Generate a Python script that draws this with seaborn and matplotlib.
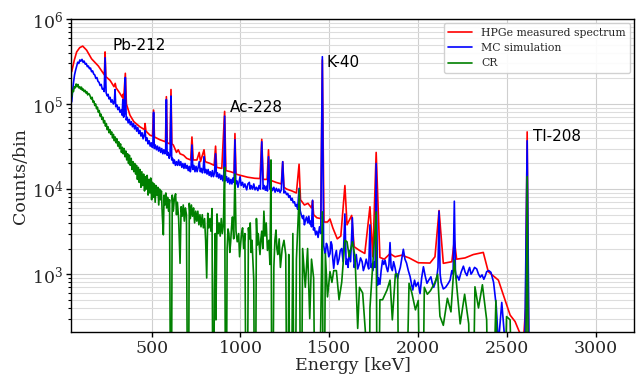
import matplotlib
matplotlib.use("Agg")
import matplotlib.pyplot as plt
import seaborn as sns
import pandas as pd

# ---------------- data (energy keV, counts/bin) ----------------
hpge_spectrum = [
    (50, 2.4e5), (65, 3.3e5), (78, 4.1e5), (95, 4.6e5), (112, 4.8e5), (134, 4.3e5),
    (162, 3.4e5), (200, 2.8e5), (228, 2.3e5), (234, 2.2e5), (238, 4.1e5), (242, 2.1e5),
    (266, 1.9e5), (288, 1.6e5), (295, 1.75e5), (300, 1.55e5), (320, 1.35e5), (335, 1.2e5),
    (338, 1.3e5), (342, 1.1e5), (352, 2.3e5), (358, 1.0e5), (378, 7.4e4), (400, 6.2e4),
    (434, 5.4e4), (460, 5.0e4), (463, 5.9e4), (468, 4.8e4), (491, 4.3e4), (505, 4.2e4),
    (511, 8.5e4), (516, 4.1e4), (547, 3.8e4), (578, 3.6e4), (583, 1.22e5), (588, 3.5e4),
    (604, 3.4e4), (609, 1.48e5), (614, 3.4e4), (622, 3.3e4), (640, 2.7e4), (650, 2.9e4),
    (660, 2.6e4), (680, 2.5e4), (697, 2.3e4), (720, 2.2e4), (727, 4.1e4), (734, 2.2e4),
    (755, 2.2e4), (768, 2.7e4), (775, 2.1e4), (795, 2.9e4), (802, 2.1e4), (830, 2.0e4),
    (852, 1.9e4), (860, 3.2e4), (866, 1.8e4), (895, 1.75e4), (911, 8.2e4), (918, 1.65e4),
    (945, 1.6e4), (964, 1.55e4), (969, 4.5e4), (975, 1.5e4), (1000, 1.45e4), (1040, 1.38e4),
    (1080, 1.34e4), (1110, 1.33e4), (1120, 3.85e4), (1128, 1.3e4), (1150, 1.3e4),
    (1158, 2.9e4), (1165, 1.28e4), (1200, 1.2e4), (1230, 1.15e4), (1238, 2.1e4),
    (1245, 1.05e4), (1260, 1.0e4), (1290, 9.5e3), (1315, 9.0e3), (1330, 1.96e4),
    (1338, 7.5e3), (1360, 6.5e3), (1380, 6.8e3), (1400, 6.0e3), (1406, 7.3e3), (1412, 5.0e3),
    (1430, 4.6e3), (1452, 4.5e3), (1461, 3.3e5), (1470, 4.1e3), (1490, 4.1e3), (1504, 4.45e3),
    (1520, 3.5e3), (1545, 2.6e3), (1565, 2.8e3), (1588, 1.1e4), (1600, 3.8e3), (1626, 4.9e3),
    (1640, 2.1e3), (1670, 1.9e3), (1700, 1.75e3), (1729, 6.2e3), (1745, 1.6e3),
    (1764, 2.7e4), (1785, 1.57e3), (1810, 1.5e3), (1842, 1.74e3), (1870, 1.6e3),
    (1908, 1.67e3), (1950, 1.55e3), (2001, 1.36e3), (2067, 1.35e3), (2095, 1.6e3),
    (2118, 5.6e3), (2142, 1.34e3), (2190, 1.4e3), (2204, 2.5e3), (2217, 1.5e3),
    (2264, 1.55e3), (2311, 1.7e3), (2367, 1.8e3), (2395, 1.07e3), (2452, 850),
    (2490, 494), (2518, 330), (2546, 277), (2574, 200), (2592, 150), (2605, 400),
    (2614, 4.7e4), (2622, 150), (2640, 80), (2700, 40),
]

mc_simulation = [
    (50, 1.06e5), (55, 1.4e5), (60, 1.77e5), (66, 2.2e5), (72, 2.5e5), (78, 2.8e5),
    (84, 3.1e5), (90, 3.0e5), (96, 3.3e5), (102, 3.2e5), (108, 3.35e5), (114, 3.1e5),
    (120, 3.2e5), (126, 2.95e5), (132, 3.0e5), (138, 2.75e5), (144, 2.8e5), (150, 2.6e5),
    (156, 2.65e5), (162, 2.4e5), (168, 2.45e5), (174, 2.25e5), (180, 2.2e5), (186, 2.0e5),
    (192, 2.05e5), (198, 1.85e5), (204, 1.8e5), (210, 1.65e5), (216, 1.7e5), (222, 1.5e5),
    (228, 1.52e5), (233, 1.4e5), (238, 3.5e5), (244, 1.35e5), (250, 1.25e5), (255, 1.3e5),
    (260, 1.15e5), (266, 1.2e5), (272, 1.05e5), (278, 1.12e5), (285, 1.0e5), (290, 1.06e5),
    (294, 1.48e5), (298, 9.3e4), (304, 9.8e4), (310, 8.6e4), (316, 9.2e4), (322, 8.0e4),
    (328, 8.5e4), (334, 7.4e4), (338, 1.13e5), (342, 7.0e4), (347, 7.6e4), (352, 2.05e5),
    (357, 6.5e4), (362, 7.0e4), (368, 6.0e4), (374, 6.6e4), (380, 5.7e4), (386, 6.2e4),
    (392, 5.4e4), (398, 5.9e4), (404, 5.1e4), (410, 5.6e4), (416, 4.8e4), (422, 5.3e4),
    (428, 4.5e4), (434, 4.9e4), (440, 4.2e4), (446, 4.6e4), (452, 3.9e4), (458, 4.3e4),
    (463, 4.9e4), (468, 3.7e4), (474, 4.0e4), (480, 3.4e4), (486, 3.7e4), (492, 3.2e4),
    (498, 3.5e4), (503, 3.1e4), (507, 3.3e4), (511, 8.0e4), (515, 3.0e4), (521, 3.3e4),
    (527, 2.9e4), (533, 3.2e4), (539, 2.8e4), (545, 3.1e4), (551, 2.7e4), (557, 3.0e4),
    (563, 2.6e4), (569, 2.9e4), (575, 2.6e4), (579, 2.8e4), (583, 1.13e5), (587, 2.5e4),
    (593, 2.7e4), (599, 2.3e4), (604, 2.5e4), (609, 1.24e5), (613, 2.2e4), (618, 2.3e4),
    (623, 2.0e4), (628, 2.2e4), (634, 1.9e4), (640, 2.1e4), (646, 1.9e4), (652, 2.2e4),
    (658, 1.9e4), (664, 2.1e4), (670, 1.8e4), (676, 2.0e4), (682, 1.75e4), (688, 2.0e4),
    (694, 1.75e4), (700, 1.9e4), (706, 1.65e4), (712, 1.85e4), (718, 1.6e4), (722, 1.8e4),
    (727, 3.3e4), (732, 1.7e4), (738, 1.9e4), (744, 1.6e4), (750, 1.85e4), (756, 1.6e4),
    (762, 1.8e4), (768, 2.1e4), (774, 1.6e4), (780, 1.75e4), (786, 1.55e4), (790, 1.7e4),
    (795, 2.4e4), (800, 1.55e4), (806, 1.7e4), (812, 1.5e4), (818, 1.7e4), (824, 1.45e4),
    (830, 1.6e4), (836, 1.4e4), (842, 1.65e4), (848, 1.4e4), (854, 1.55e4), (860, 2.6e4),
    (865, 1.4e4), (871, 1.55e4), (877, 1.35e4), (883, 1.5e4), (889, 1.3e4), (895, 1.45e4),
    (901, 1.25e4), (906, 1.4e4), (911, 7.2e4), (916, 1.25e4), (922, 1.4e4), (928, 1.2e4),
    (934, 1.35e4), (940, 1.15e4), (946, 1.3e4), (952, 1.15e4), (958, 1.35e4), (964, 1.2e4),
    (969, 3.8e4), (974, 1.15e4), (980, 1.25e4), (986, 1.05e4), (992, 1.2e4), (998, 1.4e4),
    (1004, 1.1e4), (1012, 1.2e4), (1018, 1.05e4), (1025, 1.15e4), (1035, 9.8e3),
    (1042, 1.15e4), (1050, 1.2e4), (1055, 1.0e4), (1060, 1.1e4), (1068, 1.0e4),
    (1075, 1.15e4), (1082, 9.8e3), (1090, 1.05e4), (1098, 9.6e3), (1105, 1.1e4),
    (1112, 1.0e4), (1120, 3.6e4), (1128, 1.0e4), (1134, 1.1e4), (1140, 9.7e3),
    (1146, 1.08e4), (1152, 9.5e3), (1158, 2.4e4), (1165, 1.0e4), (1172, 1.08e4),
    (1180, 9.6e3), (1188, 1.05e4), (1195, 9.2e3), (1202, 1.02e4), (1210, 9.4e3),
    (1216, 1.0e4), (1223, 9.1e3), (1230, 9.8e3), (1238, 2.1e4), (1245, 9.0e3),
    (1252, 9.4e3), (1260, 8.6e3), (1266, 8.9e3), (1272, 8.0e3), (1278, 8.4e3),
    (1285, 7.4e3), (1291, 7.8e3), (1297, 6.9e3), (1304, 7.1e3), (1310, 6.3e3),
    (1316, 6.6e3), (1322, 5.8e3), (1330, 1.02e4), (1336, 5.6e3), (1342, 5.0e3),
    (1350, 4.5e3), (1355, 4.9e3), (1360, 3.8e3), (1366, 4.3e3), (1372, 4.7e3),
    (1379, 4.0e3), (1385, 4.8e3), (1390, 3.9e3), (1395, 4.2e3), (1400, 3.6e3),
    (1406, 7.4e3), (1411, 3.3e3), (1417, 3.5e3), (1423, 2.9e3), (1430, 3.2e3),
    (1437, 2.7e3), (1445, 3.6e3), (1452, 3.0e3), (1461, 3.6e5), (1468, 2.2e3),
    (1473, 1.9e3), (1478, 1.74e3), (1484, 2.3e3), (1490, 2.1e3), (1497, 1.6e3),
    (1504, 1.74e3), (1510, 2.4e3), (1515, 2.2e3), (1520, 1.5e3), (1525, 1.17e3),
    (1532, 1.6e3), (1540, 1.9e3), (1547, 1.3e3), (1555, 1.5e3), (1562, 1.9e3),
    (1570, 2.0e3), (1578, 1.4e3), (1588, 5.1e3), (1595, 1.3e3), (1600, 1.5e3),
    (1606, 1.2e3), (1612, 1.9e3), (1620, 1.4e3), (1630, 4.6e3), (1640, 1.2e3),
    (1646, 1.4e3), (1652, 1.7e3), (1660, 1.15e3), (1668, 1.3e3), (1676, 1.55e3),
    (1685, 1.4e3), (1692, 1.1e3), (1700, 1.25e3), (1708, 1.5e3), (1715, 1.3e3),
    (1722, 1.15e3), (1729, 3.8e3), (1735, 1.2e3), (1740, 1.3e3), (1746, 1.1e3),
    (1752, 1.4e3), (1758, 1.2e3), (1764, 2.0e4), (1772, 740), (1778, 900), (1785, 760),
    (1792, 1.1e3), (1800, 1.46e3), (1807, 1.3e3), (1814, 1.46e3), (1822, 1.2e3),
    (1829, 1.07e3), (1836, 1.3e3), (1842, 2.35e3), (1848, 1.2e3), (1855, 1.1e3),
    (1862, 1.4e3), (1870, 1.2e3), (1877, 1.0e3), (1885, 890), (1892, 1.05e3),
    (1900, 1.2e3), (1908, 1.5e3), (1917, 1.96e3), (1926, 1.5e3), (1935, 1.35e3),
    (1945, 1.1e3), (1955, 936), (1962, 780), (1970, 650), (1980, 850), (1988, 720),
    (2000, 800), (2011, 590), (2020, 900), (2030, 1.22e3), (2040, 950), (2050, 780),
    (2060, 850), (2072, 930), (2080, 780), (2088, 700), (2097, 800), (2105, 900),
    (2112, 1.2e3), (2118, 5.5e3), (2124, 1.0e3), (2130, 800), (2142, 670), (2155, 700),
    (2170, 780), (2180, 850), (2190, 1.1e3), (2197, 1.0e3), (2204, 7.2e3), (2210, 1.1e3),
    (2214, 900), (2222, 950), (2230, 850), (2242, 1.05e3), (2255, 1.24e3), (2265, 1.05e3),
    (2275, 960), (2283, 1.1e3), (2290, 1.2e3), (2298, 1.0e3), (2305, 1.05e3),
    (2318, 1.2e3), (2330, 1.15e3), (2340, 1.0e3), (2350, 920), (2360, 980), (2370, 870),
    (2378, 950), (2386, 1.07e3), (2398, 1.1e3), (2410, 1.05e3), (2425, 800), (2440, 420),
    (2452, 150), (2471, 465), (2490, 150), (2510, 100), (2600, 100), (2614, 3.7e4),
    (2625, 100), (2700, 40),
]

cr_spectrum = [
    (50, 1.22e5), (55, 1.45e5), (60, 1.4e5), (65, 1.6e5), (70, 1.55e5), (75, 1.72e5),
    (80, 1.6e5), (85, 1.7e5), (90, 1.55e5), (95, 1.6e5), (100, 1.5e5), (105, 1.58e5),
    (110, 1.45e5), (115, 1.5e5), (120, 1.4e5), (125, 1.45e5), (130, 1.35e5), (135, 1.4e5),
    (140, 1.28e5), (145, 1.33e5), (150, 1.3e5), (155, 1.22e5), (160, 1.15e5), (165, 1.2e5),
    (170, 1.05e5), (175, 1.08e5), (180, 9.6e4), (185, 1.0e5), (190, 8.8e4), (195, 9.2e4),
    (200, 8.0e4), (205, 8.4e4), (210, 7.2e4), (215, 7.6e4), (220, 6.6e4), (225, 7.0e4),
    (230, 6.0e4), (235, 6.4e4), (240, 5.5e4), (245, 5.9e4), (250, 5.0e4), (255, 5.4e4),
    (260, 4.6e4), (265, 5.0e4), (270, 4.4e4), (275, 4.7e4), (280, 4.0e4), (285, 4.4e4),
    (290, 3.7e4), (295, 4.1e4), (300, 3.5e4), (305, 3.9e4), (310, 3.2e4), (315, 3.6e4),
    (320, 3.0e4), (325, 3.4e4), (330, 2.7e4), (335, 3.1e4), (340, 2.6e4), (345, 3.0e4),
    (350, 2.4e4), (355, 2.8e4), (360, 2.2e4), (365, 2.6e4), (370, 2.0e4), (375, 2.5e4),
    (380, 1.9e4), (385, 2.3e4), (390, 1.7e4), (395, 2.1e4), (400, 1.6e4), (405, 2.0e4),
    (410, 1.5e4), (415, 1.9e4), (420, 1.3e4), (425, 1.8e4), (430, 1.2e4), (435, 1.7e4),
    (440, 1.05e4), (445, 1.6e4), (450, 1.1e4), (455, 1.5e4), (460, 9.5e3), (465, 1.4e4),
    (470, 1.0e4), (475, 1.45e4), (480, 8.5e3), (485, 1.3e4), (490, 9.0e3), (495, 1.35e4),
    (500, 7.5e3), (505, 1.2e4), (510, 8.0e3), (515, 1.15e4), (520, 7.0e3), (525, 1.1e4),
    (530, 8.5e3), (535, 1.05e4), (540, 6.5e3), (545, 1.0e4), (550, 7.5e3), (555, 9.5e3),
    (560, 5.0e3), (566, 2.9e3), (570, 8.5e3), (575, 6.5e3), (580, 9.0e3), (585, 6.0e3),
    (590, 8.0e3), (595, 5.5e3), (601, 7.5e3), (609, 1), (616, 8.5e3), (622, 5.5e3),
    (628, 7.8e3), (635, 8.8e3), (640, 5.0e3), (645, 7.0e3), (652, 4.5e3), (660, 1.34e3),
    (666, 6.2e3), (672, 4.8e3), (678, 6.5e3), (684, 4.2e3), (690, 6.0e3), (696, 5.0e3),
    (706, 1), (712, 6.8e3), (718, 4.5e3), (724, 6.5e3), (730, 4.8e3), (736, 6.0e3),
    (742, 4.0e3), (748, 5.5e3), (754, 4.2e3), (760, 5.5e3), (766, 3.8e3), (772, 5.0e3),
    (778, 3.6e3), (785, 5.0e3), (791, 3.5e3), (798, 4.5e3), (804, 2.5e3), (810, 900),
    (816, 5.2e3), (822, 3.5e3), (828, 4.5e3), (834, 3.2e3), (840, 5.9e3), (847, 1),
    (853, 650), (858, 3.0e3), (862, 290), (868, 5.1e3), (874, 3.0e3), (880, 4.0e3),
    (886, 2.8e3), (892, 4.5e3), (898, 3.0e3), (904, 3.8e3), (911, 1.8e4), (918, 1),
    (925, 2.0e3), (930, 3.4e3), (935, 3.0e3), (940, 1.8e3), (945, 2.4e3), (950, 3.6e3),
    (955, 4.7e3), (962, 2.6e3), (969, 1.5e4), (975, 3.2e3), (982, 2.4e3), (990, 3.0e3),
    (995, 1.6e3), (1000, 2.1e3), (1006, 3.0e3), (1012, 3.5e3), (1018, 2.0e3),
    (1025, 3.0e3), (1035, 1), (1045, 3.5e3), (1050, 2.6e3), (1055, 4.0e3), (1060, 1.8e3),
    (1065, 2.5e3), (1075, 850), (1082, 1), (1090, 4.5e3), (1095, 2.2e3), (1100, 3.0e3),
    (1110, 1.7e3), (1115, 2.6e3), (1120, 3.2e3), (1126, 2.0e3), (1132, 5.5e3),
    (1138, 2.8e3), (1145, 4.0e3), (1152, 1.9e3), (1160, 2.5e3), (1166, 1.3e3),
    (1172, 2.2e4), (1178, 1), (1188, 1.2e3), (1194, 2.5e3), (1200, 3.3e3), (1205, 2.0e3),
    (1210, 1.7e3), (1218, 2.6e3), (1225, 1.2e3), (1235, 2.0e3), (1245, 2.5e3),
    (1255, 1.7e3), (1265, 1), (1272, 1.7e3), (1282, 1), (1295, 3.0e3), (1305, 1),
    (1315, 1.5e3), (1332, 1.0e4), (1340, 1), (1350, 2.0e3), (1365, 700), (1378, 2.0e3),
    (1390, 300), (1400, 1.5e3), (1412, 900), (1425, 1), (1435, 1), (1461, 5.4e3),
    (1468, 1), (1478, 1.74e3), (1490, 540), (1504, 1.07e3), (1515, 800), (1525, 1.1e3),
    (1540, 1.1e3), (1555, 500), (1570, 800), (1588, 2.5e3), (1600, 2.4e3), (1612, 1.6e3),
    (1630, 2.4e3), (1645, 1.6e3), (1660, 230), (1670, 700), (1688, 600), (1704, 200),
    (1720, 1), (1729, 400), (1764, 5.4e3), (1772, 1), (1785, 500), (1800, 500),
    (1825, 650), (1842, 850), (1855, 290), (1872, 1.0e3), (1885, 1.0e3), (1895, 1),
    (1920, 1), (1949, 780), (1965, 600), (1985, 380), (2001, 490), (2020, 1), (2035, 700),
    (2052, 580), (2070, 640), (2095, 800), (2110, 1.0e3), (2123, 320), (2142, 250),
    (2165, 520), (2185, 360), (2204, 1.46e3), (2218, 700), (2237, 260), (2262, 580),
    (2285, 260), (2300, 1), (2320, 710), (2340, 400), (2362, 750), (2386, 290), (2405, 1),
    (2438, 490), (2466, 1), (2498, 317), (2518, 290), (2545, 1), (2600, 1),
    (2614, 1.4e4), (2625, 1), (2700, 1),
]

series_labels = ["HPGe measured spectrum", "MC simulation", "CR"]
series_colors = ["red", "blue", "green"]
peak_labels = ["Pb-212", "Ac-228", "K-40", "Tl-208"]
peak_text_pos = [(277, 4.9e5), (941, 9.0e4), (1482, 3.1e5), (2647, 4.2e4)]

# ---------------- plotting ----------------
sns.set_theme(style="ticks")
plt.rcParams["font.family"] = ["DejaVu Serif"]
plt.rcParams["mathtext.fontset"] = "dejavuserif"

frames = []
for name, pts in zip(series_labels, [hpge_spectrum, mc_simulation, cr_spectrum]):
    df = pd.DataFrame(pts, columns=["Energy", "Counts"])
    df["series"] = name
    frames.append(df)
data = pd.concat(frames, ignore_index=True)

fig = plt.figure(figsize=(6.36, 3.79), dpi=100)
ax = fig.add_axes([0.1116, 0.1232, 0.8857, 0.8267])
ax.set_yscale("log")

for name, col in zip(series_labels, series_colors):
    sub = data[data["series"] == name]
    sns.lineplot(data=sub, x="Energy", y="Counts", ax=ax, color=col, lw=1.2,
                 label=name, sort=False, estimator=None)

ax.set_xlim(46, 3217)
ax.set_ylim(207, 1e6)
ax.set_xticks([500, 1000, 1500, 2000, 2500, 3000])

ax.grid(True, which="major", color="#cfcfcf", lw=0.8)
ax.grid(True, which="minor", axis="y", color="#dddddd", lw=0.8)
ax.set_axisbelow(True)

for s in ax.spines.values():
    s.set_color("black")
    s.set_linewidth(1.0)

ax.tick_params(axis="both", which="major", labelsize=12.5, direction="out", length=3.5,
               pad=2, color="black", width=1.0)
ax.tick_params(axis="y", which="minor", direction="out", length=2, color="black", width=0.8)
ax.tick_params(axis="x", which="minor", bottom=False)

ax.set_xlabel("Energy [keV]", fontsize=12.5, labelpad=0)
ax.set_ylabel("Counts/bin", fontsize=12.5, labelpad=2)

for lab, (xe, yc) in zip(peak_labels, peak_text_pos):
    ax.text(xe, yc, lab, fontsize=11, family="DejaVu Sans", ha="left", va="center",
            color="black")

leg = ax.legend(loc="upper right", fontsize=7.8, frameon=True, borderaxespad=0.4,
                handlelength=2.2)
leg.get_frame().set_edgecolor("#cccccc")
leg.get_frame().set_facecolor("white")
leg.get_frame().set_alpha(0.9)

fig.savefig("out.png", dpi=100)
